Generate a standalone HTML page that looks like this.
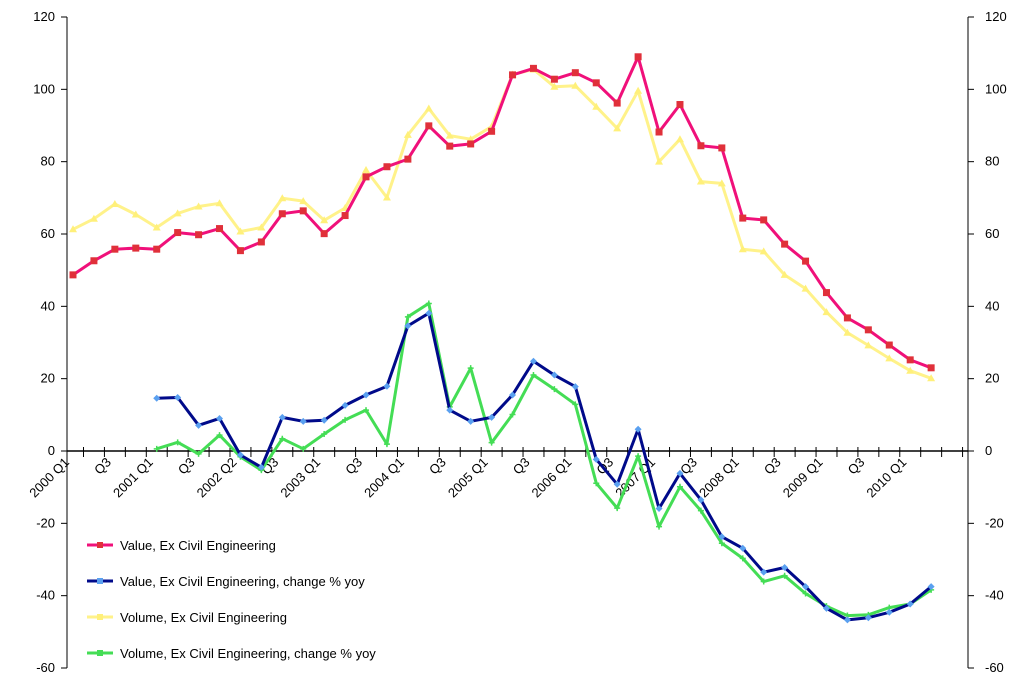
<!DOCTYPE html>
<html><head><meta charset="utf-8"><style>
html,body{margin:0;padding:0;background:#fff;}
svg text{font-family:"Liberation Sans",Arial,sans-serif;font-size:13px;fill:#000;}
</style></head><body>
<svg id="chart" width="1023" height="692" xmlns="http://www.w3.org/2000/svg"></svg>
<script>
const categoryLabels = ["2000 Q1","","Q3","","2001 Q1","","Q3","","2002 Q2","","Q3","","2003 Q1","","Q3","","2004 Q1","","Q3","","2005 Q1","","Q3","","2006 Q1","","Q3","","2007 Q1","","Q3","","2008 Q1","","Q3","","2009 Q1","","Q3","","2010 Q1",""];
const valueSeries = [48.7,52.6,55.8,56.1,55.8,60.4,59.8,61.5,55.4,57.8,65.6,66.4,60.1,65.1,75.8,78.6,80.7,89.9,84.3,84.9,88.4,104,105.8,102.8,104.6,101.8,96.2,109,88.2,95.8,84.4,83.8,64.4,63.9,57.2,52.5,43.8,36.8,33.5,29.3,25.2,23.0];
const volumeSeries = [61.3,64.2,68.3,65.4,61.8,65.7,67.6,68.5,60.7,61.8,69.9,69.1,63.8,67.2,77.7,70.1,87.4,94.7,87.2,86.2,89.7,104.1,105.5,100.7,101,95.2,89.2,99.6,80,86.2,74.5,74,55.8,55.2,48.7,44.9,38.4,32.7,29.2,25.6,22.2,20.1];
const valueChange = [null,null,null,null,14.6,14.8,7.1,9.0,-1.1,-4.5,9.3,8.2,8.5,12.6,15.5,17.9,34.6,38.1,11.3,8.2,9.3,15.5,24.8,21.0,17.8,-2.3,-9.2,6.0,-15.9,-6.2,-13.5,-23.7,-26.9,-33.5,-32.2,-37.5,-43.5,-46.7,-46.1,-44.6,-42.3,-37.5];
const volumeChange = [null,null,null,null,0.6,2.4,-0.8,4.4,-1.6,-5.3,3.4,0.6,4.7,8.6,11.3,1.9,37.1,40.8,12.2,22.9,2.3,10.1,21.0,17.1,12.9,-8.9,-15.8,-1.4,-20.9,-9.9,-16.5,-25.5,-29.7,-36.1,-34.5,-39.4,-42.9,-45.5,-45.3,-43.3,-42.3,-38.4];
const yTicks = [120,100,80,60,40,20,0,-20,-40,-60];
const seriesNames = ["Value, Ex Civil Engineering","Value, Ex Civil Engineering, change % yoy","Volume, Ex Civil Engineering","Volume, Ex Civil Engineering, change % yoy"];

const svg = document.getElementById('chart');
const NS = 'http://www.w3.org/2000/svg';
const L = 67, R = 968, T = 17, B = 668;
function y(v){ return T + (120 - v) * (B - T) / 180; }
function x(i){ return 73 + i * 20.93; }
function mk(tag, attrs, parent){ const e = document.createElementNS(NS, tag); for (const k in attrs) e.setAttribute(k, attrs[k]); (parent||svg).appendChild(e); return e; }

// axes
let ax = mk('line',{x1:L,y1:T,x2:L,y2:B,stroke:'#000','stroke-width':1});


ax = mk('line',{x1:R,y1:T,x2:R,y2:B,stroke:'#000','stroke-width':1});


ax = mk('line',{x1:L,y1:y(0),x2:R,y2:y(0),stroke:'#000','stroke-width':1.5});



yTicks.forEach(v => {
  const yy = y(v);
  mk('line',{x1:L-6,y1:yy,x2:L,y2:yy,stroke:'#000'});
  mk('line',{x1:R,y1:yy,x2:R+6,y2:yy,stroke:'#000'});
  let t = mk('text',{x:55,y:yy+4,'text-anchor':'end'}); t.textContent = v;
  
  
  t = mk('text',{x:985,y:yy+4,'text-anchor':'start'}); t.textContent = v;
  
  
});

for (let k = 0; k < categoryLabels.length + 1; k++) {
  const xx = x(k) + 10.5;
  if (xx > R) break;
  mk('line',{x1:xx,y1:y(0)-4,x2:xx,y2:y(0)+6,stroke:'#000'});
}
categoryLabels.forEach((lab,i) => {
  if (!lab) return;
  const xx = x(i) - 3, yy = y(0) + 12;
  const t = mk('text',{x:xx,y:yy,'text-anchor':'end',transform:`rotate(-45 ${xx} ${yy})`});
  t.textContent = lab;
  
  
});

function drawSeries(data, color, mcolor, shape, name){
  const g = mk('g',{});
  
  
  let d = '';
  data.forEach((v,i) => { if (v === null) return; d += (d ? 'L' : 'M') + x(i).toFixed(1) + ' ' + y(v).toFixed(1) + ' '; });
  mk('path',{d:d,fill:'none',stroke:color,'stroke-width':3,'stroke-linejoin':'round'},g);
  data.forEach((v,i) => {
    if (v === null) return;
    const cx = x(i), cy = y(v);
    let m;
    if (shape === 'square') m = mk('rect',{x:cx-3.5,y:cy-3.5,width:7,height:7,fill:mcolor},g);
    else if (shape === 'tri') m = mk('path',{d:`M${cx} ${cy-4}L${cx+4} ${cy+3}L${cx-4} ${cy+3}Z`,fill:mcolor},g);
    else if (shape === 'diamond') m = mk('path',{d:`M${cx} ${cy-3.5}L${cx+3.5} ${cy}L${cx} ${cy+3.5}L${cx-3.5} ${cy}Z`,fill:mcolor},g);
    else m = mk('path',{d:`M${cx-3} ${cy}H${cx+3}M${cx} ${cy-3}V${cy+3}`,stroke:mcolor,'stroke-width':1.5},g);
    
    
  });
}
drawSeries(volumeSeries,'#fff28a','#fff07a','tri','volume-series');
drawSeries(valueSeries,'#f0107a','#e0303a','square','value-series');
drawSeries(volumeChange,'#44dd55','#44dd55','plus','volume-change-series');
drawSeries(valueChange,'#000a8a','#5aa0f0','diamond','value-change-series');

const legendColors = ['#f0107a','#000a8a','#fff28a','#44dd55'];
const legendMarkers = ['#e0303a','#5aa0f0','#fff07a','#44dd55'];
seriesNames.forEach((n,k) => {
  const yy = 545 + k * 36;
  const g = mk('g',{});
  
  
  mk('line',{x1:87,y1:yy,x2:113,y2:yy,stroke:legendColors[k],'stroke-width':3},g);
  mk('rect',{x:97,y:yy-3,width:6,height:6,fill:legendMarkers[k]},g);
  const t = mk('text',{x:120,y:yy+5},g); t.textContent = n;
});
</script>
</body></html>
